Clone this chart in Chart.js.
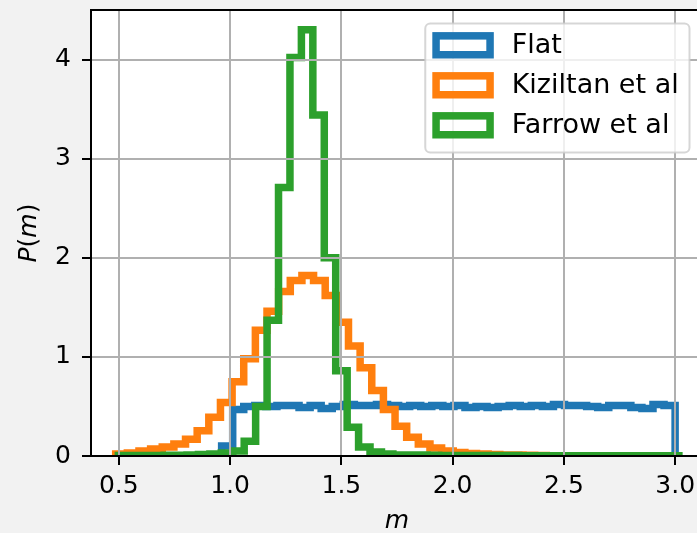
<!DOCTYPE html>
<html>
<head>
<meta charset="utf-8">
<script src="https://cdn.jsdelivr.net/npm/chart.js@4.4.1/dist/chart.umd.min.js"></script>
<style>
  html, body { margin: 0; padding: 0; background: #f2f2f2; overflow: hidden; }
  #wrap { width: 697px; height: 533px; overflow: hidden; }
</style>
</head>
<body>
<div id="wrap"><canvas id="chart" width="713" height="533"></canvas></div>
<script>
// each histogram: first bin edge, bin width, bin heights (density)
const seriesNames = ["Flat", "Kiziltan et al", "Farrow et al"];

const flatStart = 0.962, flatWidth = 0.0497;
const flatHeights = [0.10, 0.47, 0.50, 0.51, 0.50, 0.51, 0.51, 0.49, 0.51, 0.48,
    0.50, 0.52, 0.51, 0.51, 0.52, 0.51, 0.50, 0.51, 0.50, 0.51,
    0.50, 0.51, 0.49, 0.50, 0.49, 0.50, 0.51, 0.50, 0.51, 0.50,
    0.52, 0.51, 0.51, 0.50, 0.49, 0.51, 0.51, 0.49, 0.48, 0.52, 0.51];

const kizStart = 0.486, kizWidth = 0.0523;
const kizHeights = [0.02, 0.03, 0.05, 0.07, 0.09, 0.12, 0.17, 0.255, 0.39, 0.54,
    0.75, 0.98, 1.27, 1.46, 1.66, 1.77, 1.82, 1.77, 1.62, 1.35,
    1.11, 0.89, 0.66, 0.47, 0.30, 0.19, 0.12, 0.08, 0.05, 0.035,
    0.025, 0.02, 0.015, 0.01, 0.01, 0.008, 0.005];

const farStart = 0.498, farWidth = 0.0514;
const farHeights = [0.005, 0.005, 0.005, 0.005, 0.008, 0.008, 0.01, 0.015, 0.02, 0.03,
    0.05, 0.15, 0.50, 1.37, 2.71, 4.02, 4.30, 3.44, 2.00, 0.86,
    0.29, 0.09, 0.04, 0.02, 0.01, 0.01, 0.01, 0.008, 0.006, 0.005,
    0.005, 0.005, 0.004, 0.004, 0.004, 0.003, 0.003, 0.003, 0.003, 0.003,
    0.003, 0.003, 0.003, 0.003, 0.003, 0.003, 0.003, 0.003, 0.003];

const xLimits = [0.375, 3.125];
const yLimits = [0, 4.5];
const xTickValues = [0.5, 1.0, 1.5, 2.0, 2.5, 3.0];
const yTickValues = [0, 1, 2, 3, 4];

const colors = ["#1f77b4", "#ff7f0e", "#2ca02c"];
const FS = 25;
Chart.defaults.font.family = "'DejaVu Sans', sans-serif";

// step outline like matplotlib histtype='step'
const outline = function(start, width, heights) {
    let pts = [{x: start, y: 0}];
    heights.forEach(function(h, i) {
        pts.push({x: start + i * width, y: h});
        pts.push({x: start + (i + 1) * width, y: h});
    });
    pts.push({x: start + heights.length * width, y: 0});
    return pts;
};

const mkSet = function(i, pts) {
    return {
        label: seriesNames[i],
        data: pts,
        borderColor: colors[i],
        borderWidth: 7.5,
        pointRadius: 0,
        fill: false,
        tension: 0,
        clip: 0,
        order: 3 - i
    };
};

const drawLegend = function(chart) {
    const ctx = chart.ctx, a = chart.chartArea;
    const fs = 27;
    ctx.save();
    ctx.font = fs + "px 'DejaVu Sans'";
    let textW = 0;
    seriesNames.forEach(function(n) { textW = Math.max(textW, ctx.measureText(n).width); });
    const pad = 0.4 * fs, handleW = 2 * fs, gap = 0.8 * fs, rowH = 40;
    const w = pad + handleW + gap + textW + pad;
    const h = 2 * pad + 3 * rowH - 0.5 * fs + 1;
    const right = a.right - 0.5 * fs, top = a.top + 0.5 * fs;
    const left = right - w;
    ctx.beginPath();
    ctx.roundRect(left, top, w, h, 5);
    ctx.fillStyle = "rgba(255,255,255,0.8)";
    ctx.fill();
    ctx.lineWidth = 2;
    ctx.strokeStyle = "rgba(204,204,204,0.8)";
    ctx.stroke();
    seriesNames.forEach(function(n, i) {
        const cy = top + pad + 11 + i * rowH;
        ctx.lineWidth = 7.5;
        ctx.strokeStyle = colors[i];
        ctx.strokeRect(left + pad, cy - 0.35 * fs, handleW, 0.7 * fs);
        ctx.fillStyle = "#000";
        ctx.textBaseline = "middle";
        ctx.textAlign = "left";
        ctx.fillText(n, left + pad + handleW + gap, cy + 1);
    });
    ctx.restore();
};

const decor = {
    id: "decor",
    beforeDraw(chart) {
        const ctx = chart.ctx, a = chart.chartArea;
        ctx.save();
        ctx.fillStyle = "#f2f2f2";
        ctx.fillRect(0, 0, chart.width, chart.height);
        ctx.fillStyle = "#ffffff";
        ctx.fillRect(a.left, a.top, a.right - a.left, a.bottom - a.top);
        ctx.restore();
    },
    afterDraw(chart) {
        const ctx = chart.ctx, a = chart.chartArea;
        ctx.save();
        // spines
        ctx.strokeStyle = "#000";
        ctx.lineWidth = 2;
        ctx.strokeRect(a.left, a.top, a.right - a.left, a.bottom - a.top);
        // x label
        ctx.fillStyle = "#000";
        ctx.font = "italic " + FS + "px 'DejaVu Sans'";
        ctx.textAlign = "center";
        ctx.textBaseline = "alphabetic";
        ctx.fillText("m", (a.left + a.right) / 2, a.bottom + 72);
        // y label P(m), italic letters, upright parens
        const parts = [["P", true], ["(", false], ["m", true], [")", false]];
        const fontOf = function(it) { return (it ? "italic " : "") + FS + "px 'DejaVu Sans'"; };
        let total = 0;
        parts.forEach(function(p) { ctx.font = fontOf(p[1]); total += ctx.measureText(p[0]).width; });
        ctx.translate(36, (a.top + a.bottom) / 2);
        ctx.rotate(-Math.PI / 2);
        ctx.textAlign = "left";
        let x = -total / 2;
        parts.forEach(function(p) {
            ctx.font = fontOf(p[1]);
            ctx.fillText(p[0], x, 0);
            x += ctx.measureText(p[0]).width;
        });
        ctx.restore();
        drawLegend(chart);
    }
};

const gridOpts = {
    color: "#b0b0b0",
    lineWidth: 2,
    z: 1,
    tickColor: "#000",
    tickLength: 9,
    tickWidth: 2
};

const main = function() {
    const ctx = document.getElementById("chart").getContext("2d");
    new Chart(ctx, {
        type: "line",
        data: {
            datasets: [
                mkSet(0, outline(flatStart, flatWidth, flatHeights)),
                mkSet(1, outline(kizStart, kizWidth, kizHeights)),
                mkSet(2, outline(farStart, farWidth, farHeights))
            ]
        },
        options: {
            responsive: false,
            animation: false,
            layout: { padding: { top: 10, right: 10, left: 0, bottom: 0 } },
            plugins: { legend: { display: false }, tooltip: { enabled: false } },
            scales: {
                x: {
                    type: "linear",
                    min: xLimits[0],
                    max: xLimits[1],
                    bounds: "data",
                    afterFit: function(s) { s.height = 77; s.paddingLeft = 0; s.paddingRight = 0; },
                    afterBuildTicks: function(s) { s.ticks = xTickValues.map(v => ({value: v})); },
                    ticks: {
                        font: { size: FS },
                        color: "#000",
                        padding: 6,
                        maxRotation: 0,
                        autoSkip: false,
                        callback: v => v.toFixed(1)
                    },
                    grid: gridOpts,
                    border: { display: false }
                },
                y: {
                    type: "linear",
                    min: yLimits[0],
                    max: yLimits[1],
                    bounds: "data",
                    afterFit: function(s) { s.width = 91; s.paddingTop = 0; s.paddingBottom = 0; },
                    afterBuildTicks: function(s) { s.ticks = yTickValues.map(v => ({value: v})); },
                    ticks: {
                        font: { size: FS },
                        color: "#000",
                        padding: 11,
                        autoSkip: false,
                        callback: v => String(v)
                    },
                    grid: gridOpts,
                    border: { display: false }
                }
            }
        },
        plugins: [decor]
    });
};
main();
</script>
</body>
</html>
